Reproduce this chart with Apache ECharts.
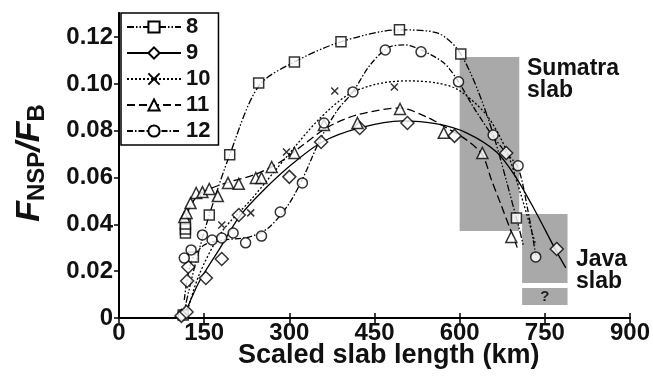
<!DOCTYPE html>
<html>
<head>
<meta charset="utf-8">
<script src="https://cdn.jsdelivr.net/npm/echarts@6/dist/echarts.min.js"></script>
<style>
html, body { margin: 0; padding: 0; background: #fff; }
#chart { width: 653px; height: 377px; }
</style>
</head>
<body>
<div id="chart"></div>
<script>
// series names (legend)
var names = ['8', '9', '10', '11', '12'];

// measured points [slab length km, F_NSP/F_B]
var pts8 = [[113, 0.0013], [117, 0.0363], [117, 0.038], [117, 0.0402], [131, 0.0261], [159, 0.044], [195, 0.0697],
    [246, 0.1004], [309, 0.1094], [391, 0.118], [494, 0.1231], [602, 0.1128], [700, 0.0427]];
var pts9 = [[110, 0.0009], [119, 0.0026], [120, 0.0158], [122, 0.0218], [153, 0.0171], [181, 0.0252], [211, 0.044],
    [300, 0.0603], [356, 0.0752], [424, 0.0812], [508, 0.0833], [591, 0.0778], [682, 0.0705], [771, 0.0295]];
var pts10 = [[181, 0.0397], [232, 0.0449], [295, 0.0709], [380, 0.097], [485, 0.0987]];
var pts11 = [[115, 0.0432], [119, 0.0449], [126, 0.0491], [136, 0.0534], [147, 0.0538], [159, 0.0551], [174, 0.0521],
    [192, 0.0577], [211, 0.0573], [241, 0.0598], [251, 0.0598], [269, 0.0645], [309, 0.0705], [361, 0.0825],
    [420, 0.0833], [495, 0.0893], [572, 0.0791], [640, 0.0705], [691, 0.0346]];
var pts12 = [[115, 0.0256], [127, 0.0291], [147, 0.0355], [164, 0.0333], [181, 0.0342], [201, 0.0363], [223, 0.0321],
    [251, 0.035], [284, 0.0453], [323, 0.0577], [361, 0.0833], [412, 0.0966], [469, 0.1145], [532, 0.1137],
    [598, 0.1009], [659, 0.0782], [703, 0.065], [734, 0.0261]];

// fitted curves
var fit8 = [[112, 0], [134, 0.0226], [159, 0.044], [195, 0.0697], [246, 0.0991], [309, 0.1094], [391, 0.118],
    [494, 0.1231], [560, 0.1218], [602, 0.1128], [651, 0.0846], [700, 0.0427], [712, 0.0312]];
var fit9 = [[113, 0], [141, 0.0154], [176, 0.0291], [213, 0.0436], [255, 0.0547], [307, 0.0662], [358, 0.0752],
    [424, 0.0812], [499, 0.0842], [560, 0.0829], [612, 0.0791], [665, 0.0709], [700, 0.0598], [734, 0.0453],
    [769, 0.0291], [787, 0.0214]];
var fit10 = [[117, 0], [141, 0.0184], [181, 0.0368], [232, 0.0504], [298, 0.0697], [351, 0.0846], [403, 0.0953],
    [455, 0.1], [508, 0.1013], [560, 0.1004], [598, 0.0974], [647, 0.0868], [682, 0.0718], [708, 0.0526], [734, 0.0312]];
var fit11 = [[115, 0.0397], [124, 0.047], [138, 0.0521], [159, 0.0551], [194, 0.0581], [237, 0.0611], [281, 0.0662],
    [324, 0.0739], [368, 0.0816], [420, 0.0868], [495, 0.0897], [542, 0.0859], [577, 0.0812], [612, 0.0761],
    [640, 0.0697], [656, 0.059], [673, 0.0483], [691, 0.0368], [703, 0.0291]];
var fit12 = [[115, 0.0077], [127, 0.0239], [150, 0.0312], [185, 0.0333], [229, 0.0346], [263, 0.0385], [298, 0.0483],
    [324, 0.0598], [354, 0.0761], [385, 0.0889], [412, 0.0966], [441, 0.1077], [473, 0.1154], [502, 0.1167],
    [532, 0.1145], [572, 0.109], [598, 0.1009], [624, 0.0902], [658, 0.0778], [682, 0.0705], [703, 0.0641],
    [720, 0.0462], [734, 0.0269]];

// slab ranges [x, y] corners
var sumatraBox = [[600, 0.0372], [705, 0.1115]];
var javaBox = [[710, 0.015], [790, 0.0444]];
var unknownBox = [[710, 0.0056], [790, 0.0128]];

var xTicks = [0, 150, 300, 450, 600, 750, 900];
var yTicks = [0, 0.02, 0.04, 0.06, 0.08, 0.10, 0.12];

var pts = [pts8, pts9, pts10, pts11, pts12];
var fits = [fit8, fit9, fit10, fit11, fit12];
var symbols = ['rect', 'diamond', 'path://M0,0L10,10M10,0L0,10', 'triangle', 'circle'];
var symbolSizes = [10, 13, 7, 11, 10];
var dashes = [[7, 2, 1.5, 2, 1.5, 2], 'solid', [2, 2], [8, 4], [6, 2, 1.5, 2]];

var font = 'Liberation Sans, Arial, sans-serif';
var chart = echarts.init(document.getElementById('chart'));

var series = [{
    type: 'line',
    data: [],
    z: 1,
    markArea: {
        silent: true,
        itemStyle: { color: '#a9a9a9' },
        label: { show: false },
        data: [
            [{ coord: sumatraBox[0] }, { coord: sumatraBox[1] }],
            [{ coord: javaBox[0] }, { coord: javaBox[1] }],
            [{ coord: unknownBox[0], label: { show: true, position: 'inside', formatter: '?',
                fontSize: 15, fontWeight: 'bold', color: '#222', fontFamily: font } },
             { coord: unknownBox[1] }]
        ]
    }
}];

names.forEach(function (n, i) {
    var item = { color: '#fff', borderColor: '#000', borderWidth: 1.5 };
    series.push({
        type: 'line',
        name: n,
        data: fits[i],
        smooth: 0.3,
        showSymbol: false,
        symbol: symbols[i],
        symbolSize: symbolSizes[i],
        silent: true,
        z: 3,
        lineStyle: { color: '#000', width: 1.3, type: dashes[i] },
        itemStyle: item
    });
    series.push({
        type: 'scatter',
        name: 'pts' + n,
        data: pts[i],
        symbol: symbols[i],
        symbolSize: symbolSizes[i],
        z: 4,
        itemStyle: item
    });
});

var option = {
    animation: false,
    backgroundColor: '#fff',
    grid: { left: 119, right: 18, top: 13, bottom: 59 },
    legend: {
        data: names,
        orient: 'vertical',
        left: 121,
        top: 13,
        itemWidth: 54,
        itemHeight: 14,
        itemGap: 4,
        padding: [3, 8, 3, 5],
        backgroundColor: '#fff',
        borderColor: '#000',
        borderWidth: 1.5,
        textStyle: { fontSize: 22, fontWeight: 'bold', color: '#111', fontFamily: font }
    },
    xAxis: [{
        type: 'value',
        min: 0, max: 900, interval: 150,
        axisLine: { lineStyle: { color: '#000', width: 2 } },
        axisTick: { show: true, length: 5, lineStyle: { color: '#000', width: 1.5 } },
        axisLabel: { fontSize: 24, fontWeight: 'bold', color: '#111', fontFamily: font, margin: 3,
            customValues: xTicks },
        splitLine: { show: false }
    }, {
        type: 'value',
        position: 'top',
        min: 0, max: 900, interval: 150,
        axisLine: { lineStyle: { color: '#000', width: 2 } },
        axisTick: { show: true, length: 5, lineStyle: { color: '#000', width: 1.5 } },
        axisLabel: { show: false },
        splitLine: { show: false }
    }],
    yAxis: [{
        type: 'value',
        min: 0, max: 0.1303,
        axisLine: { show: true, lineStyle: { color: '#000', width: 2 } },
        axisTick: { show: true, length: 5, lineStyle: { color: '#000', width: 1.5 }, customValues: yTicks },
        axisLabel: {
            fontSize: 24, fontWeight: 'bold', color: '#111', fontFamily: font, margin: 6,
            customValues: yTicks,
            formatter: function (v) { return v === 0 ? '0' : v.toFixed(2); }
        },
        splitLine: { show: false }
    }, {
        type: 'value',
        position: 'right',
        min: 0, max: 0.1303,
        axisLine: { show: true, lineStyle: { color: '#000', width: 2 } },
        axisTick: { show: false },
        axisLabel: { show: false },
        splitLine: { show: false }
    }],
    graphic: [{
        type: 'text',
        left: 238, top: 342,
        style: { text: 'Scaled slab length (km)', font: 'bold 27px ' + font, fill: '#111' }
    }, {
        type: 'text',
        x: 30, y: 163,
        rotation: Math.PI / 2,
        style: {
            text: '{f|F}{s|NSP}{f|/F}{s|B}',
            align: 'center', verticalAlign: 'middle',
            fill: '#111',
            rich: {
                f: { fontSize: 34, fontWeight: 'bold', fontStyle: 'italic', fontFamily: font, fill: '#111' },
                s: { fontSize: 24, fontWeight: 'bold', fontFamily: font, fill: '#111', padding: [14, 0, 0, 0] }
            }
        }
    }, {
        type: 'text',
        left: 527, top: 57,
        style: { text: 'Sumatra\nslab', font: 'bold 23px ' + font, lineHeight: 22, fill: '#111' }
    }, {
        type: 'text',
        left: 576, top: 248,
        style: { text: 'Java\nslab', font: 'bold 23px ' + font, lineHeight: 22, fill: '#111' }
    }],
    series: series
};

chart.setOption(option);
</script>
</body>
</html>
